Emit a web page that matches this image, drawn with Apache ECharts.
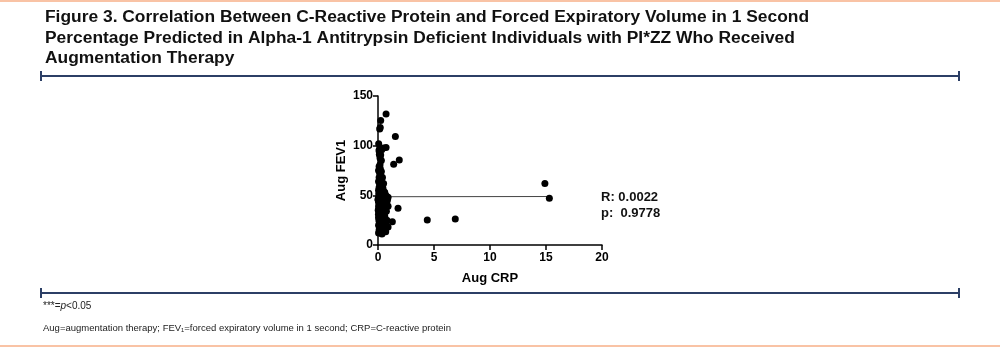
<!DOCTYPE html>
<html>
<head>
<meta charset="utf-8">
<script src="https://cdn.jsdelivr.net/npm/echarts@6/dist/echarts.min.js"></script>
<style>
  html, body { margin: 0; padding: 0; background: #fff; }
  #chart { width: 1000px; height: 348px; }
</style>
</head>
<body>
<div id="chart"></div>
<script>
// Aug CRP (x) and Aug FEV1 (y) for each individual
const crpValues = [
  0.72, 0.24, 0.20, 0.15, 0.06, 0.72, 0.48, 0.12, 0.33, 0.09, 0.24, 0.18, 0.18, 0.30, 0.12,
  1.55, 1.90, 1.40, 14.9, 15.3, 4.40, 6.90, 1.79, 1.28, 0.90, 0.69, 0.38,
  0.10, 0.20, 0.05, 0.30, 0.15, 0.25, 0.40, 0.10, 0.20, 0.05, 0.30, 0.50, 0.15, 0.35, 0.10,
  0.25, 0.45, 0.05, 0.20, 0.60, 0.30, 0.10, 0.40, 0.70, 0.20, 0.05, 0.50, 0.90, 0.30, 0.15,
  0.60, 0.40, 0.80, 0.05, 0.25, 0.50, 0.70, 0.10, 0.35, 0.90, 0.20, 0.60, 0.05, 0.40, 0.25,
  0.75, 0.10, 0.50, 0.30, 0.15, 0.60, 0.05, 0.40, 0.20, 0.80, 0.30, 0.10, 0.50, 0.70, 0.25,
  0.05, 0.40, 0.15, 0.60, 0.30, 0.10, 0.45, 0.20, 0.05, 0.35, 0.55, 0.00, 0.08, 0.28, 0.42,
  0.65, 0.18, 0.02, 0.33, 0.48, 0.12, 0.58, 0.22, 0.85, 0.38, 0.04, 0.27, 0.52, 0.16, 0.68,
  0.08, 0.44, 0.32, 0.62, 0.14, 0.02, 0.36, 0.78, 0.24, 0.54, 0.06, 0.46, 0.18, 0.66, 0.34
];
const fevValues = [
  131.9, 125.4, 118.4, 116.8, 101.9, 98.2, 97.6, 96.5, 95.9, 94.9, 90.5, 87.5, 80.7, 85.0, 91.0,
  109.3, 85.5, 81.4, 61.9, 47.1, 25.2, 26.2, 37.0, 23.3, 18.2, 13.4, 11.8,
  79, 77, 75, 74, 72, 70, 68, 68, 66, 64, 63, 62, 61, 60, 58,
  57, 56, 55, 54, 53, 52, 51, 50, 50, 49, 48, 48, 48, 47, 46,
  45, 44, 44, 43, 42, 41, 41, 40, 39, 39, 38, 37, 36, 35, 34,
  34, 33, 32, 31, 30, 29, 28, 27, 26, 25, 25, 24, 23, 22, 21,
  20, 19, 18, 17, 16, 15, 14, 13, 12, 11, 53, 46, 52, 44, 58,
  47, 42, 35, 40, 45, 55, 38, 29, 46, 49, 31, 65, 43, 23, 36,
  26, 52, 37, 33, 19, 45, 57, 42, 50, 27, 39, 30, 62, 49, 22
];
// Fitted regression line (R = 0.0022)
const fitX = [0, 15.3];
const fitY = [48.6, 48.8];
const xTicks = { min: 0, max: 20, interval: 5 };
const yTicks = { min: 0, max: 150, interval: 50 };
const titleLines = [
  'Figure 3. Correlation Between C-Reactive Protein and Forced Expiratory Volume in 1 Second',
  'Percentage Predicted in Alpha-1 Antitrypsin Deficient Individuals with PI*ZZ Who Received',
  'Augmentation Therapy'
];
const statLines = ['R: 0.0022', 'p:  0.9778'];
const footnote = 'Aug=augmentation therapy; FEV\u2081=forced expiratory volume in 1 second; CRP=C-reactive protein';

const points = crpValues.map((x, i) => [x, fevValues[i]]);
const fitLine = fitX.map((x, i) => [x, fitY[i]]);

const FONT = 'Liberation Sans, Arial, sans-serif';
const RULE = '#2c3f66';
const PEACH = '#f9c3a5';

function rule(y) {
  return [
    { type: 'line', shape: { x1: 41, y1: y, x2: 959, y2: y }, style: { stroke: RULE, lineWidth: 2 } },
    { type: 'line', shape: { x1: 41, y1: y - 5, x2: 41, y2: y + 5 }, style: { stroke: RULE, lineWidth: 2 } },
    { type: 'line', shape: { x1: 959, y1: y - 5, x2: 959, y2: y + 5 }, style: { stroke: RULE, lineWidth: 2 } }
  ];
}

const graphics = [
  { type: 'line', shape: { x1: 0, y1: 1, x2: 1000, y2: 1 }, style: { stroke: PEACH, lineWidth: 2 } },
  { type: 'line', shape: { x1: 0, y1: 346, x2: 1000, y2: 346 }, style: { stroke: PEACH, lineWidth: 2 } },
  ...rule(76),
  ...rule(293),
  ...titleLines.map((t, i) => ({
    type: 'text', x: 45, y: 9 + i * 20.5,
    style: { text: t, font: 'bold 17.4px ' + FONT, fill: '#111', verticalAlign: 'top' }
  })),
  ...statLines.map((t, i) => ({
    type: 'text', x: 601, y: 191 + i * 16,
    style: { text: t, font: 'bold 13px ' + FONT, fill: '#111', verticalAlign: 'top' }
  })),
  {
    type: 'text', x: 43, y: 301,
    style: {
      text: '{a|***=}{i|p}{a|<0.05}',
      rich: {
        a: { font: '10px ' + FONT, fill: '#222' },
        i: { font: 'italic 10px ' + FONT, fill: '#222' }
      },
      verticalAlign: 'top'
    }
  },
  {
    type: 'text', x: 43, y: 323,
    style: { text: footnote, font: '9.5px ' + FONT, fill: '#222', verticalAlign: 'top' }
  }
];

const axisCommon = {
  type: 'value',
  splitLine: { show: false },
  axisLine: { show: true, onZero: false, lineStyle: { color: '#000', width: 1.5 } },
  axisTick: { show: true, inside: false, length: 5, lineStyle: { color: '#000', width: 1.5 } },
  axisLabel: { color: '#000', fontFamily: FONT, fontWeight: 'bold', fontSize: 12 },
  nameLocation: 'middle',
  nameTextStyle: { color: '#000', fontFamily: FONT, fontWeight: 'bold', fontSize: 13 }
};

const chart = echarts.init(document.getElementById('chart'), null, { renderer: 'canvas' });
chart.setOption({
  animation: false,
  backgroundColor: '#fff',
  grid: { left: 378, right: 398, top: 96, bottom: 103, containLabel: false },
  xAxis: Object.assign({}, axisCommon, {
    min: xTicks.min, max: xTicks.max, interval: xTicks.interval,
    name: 'Aug CRP', nameGap: 27,
    axisLabel: Object.assign({}, axisCommon.axisLabel, { margin: 7 })
  }),
  yAxis: Object.assign({}, axisCommon, {
    min: yTicks.min, max: yTicks.max, interval: yTicks.interval,
    name: 'Aug FEV1', nameGap: 30,
    axisLabel: Object.assign({}, axisCommon.axisLabel, { margin: 5 })
  }),
  series: [
    {
      type: 'line', data: fitLine, showSymbol: false, symbol: 'none',
      lineStyle: { color: '#444', width: 1 }, z: 1
    },
    {
      type: 'scatter', data: points, symbol: 'circle', symbolSize: 7,
      itemStyle: { color: '#000', opacity: 1 }, z: 2
    }
  ],
  graphic: graphics
});
</script>
</body>
</html>
